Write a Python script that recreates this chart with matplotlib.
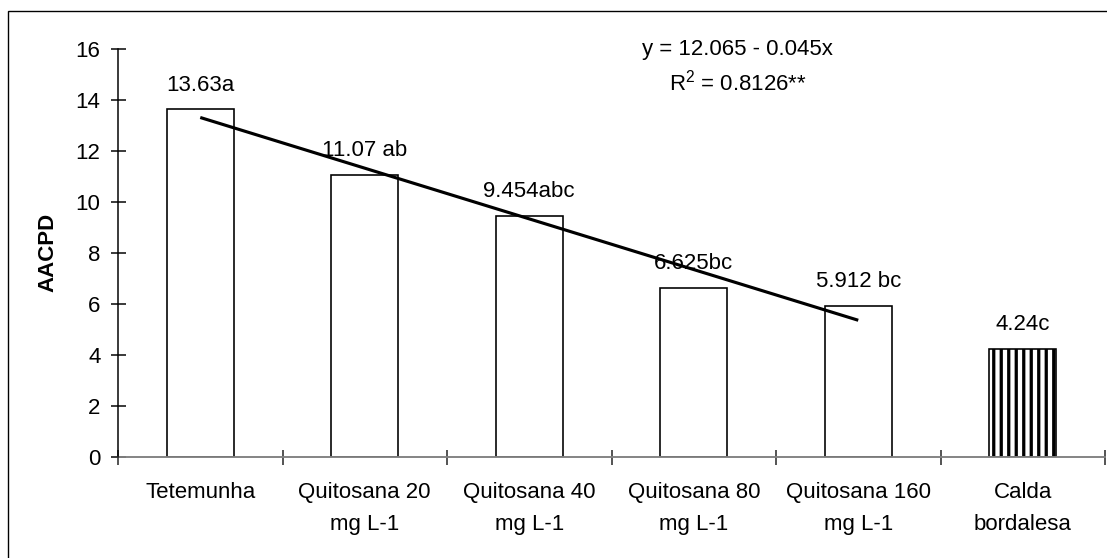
import matplotlib
matplotlib.use("Agg")
import matplotlib.pyplot as plt
import numpy as np
from matplotlib.patches import Rectangle

categories = ["Tetemunha", "Quitosana 20\nmg L-1", "Quitosana 40\nmg L-1",
              "Quitosana 80\nmg L-1", "Quitosana 160\nmg L-1", "Calda\nbordalesa"]
values = [13.63, 11.07, 9.454, 6.625, 5.912, 4.24]
bar_labels = ["13.63a", "11.07 ab", "9.454abc", "6.625bc", "5.912 bc", "4.24c"]
hatches = ["", "", "", "", "", "||"]
yticks = [0, 2, 4, 6, 8, 10, 12, 14, 16]
equation = "y = 12.065 - 0.045x"
r2_text = r"R$^{\mathregular{2}}$ = 0.8126**"
ylabel = "AACPD"

plt.rcParams['font.family'] = ['Liberation Sans', 'DejaVu Sans']
plt.rcParams['hatch.linewidth'] = 2.6

DPI = 90
W, H = 1107, 558
fig = plt.figure(figsize=(W / DPI, H / DPI), dpi=DPI)
fig.patch.set_facecolor('white')

L, R, B, T = 118, 1105, 457, 49
ax = fig.add_axes([L / W, 1 - B / H, (R - L) / W, (B - T) / H])
ax.patch.set_alpha(0)

FS = 17.8
x = np.arange(len(categories))
for i, (v, h) in enumerate(zip(values, hatches)):
    ax.bar(x[i], v, width=0.41, facecolor='white', edgecolor='black',
           linewidth=1.3, hatch=h if h else None, zorder=2)

for i, (v, lab) in enumerate(zip(values, bar_labels)):
    ax.annotate(lab, (x[i], v), xytext=(0, 15), textcoords='offset points',
                ha='center', va='baseline', fontsize=FS, zorder=3)

# linear trend over the five chitosan-related categories (Excel-style, by category index)
xt = x[:5]
coef = np.polyfit(xt, values[:5], 1)
ax.plot([xt[0], xt[-1]], np.polyval(coef, [xt[0], xt[-1]]), color='black',
        lw=2.5, zorder=4, solid_capstyle='butt')

ax.set_xlim(-0.5, len(categories) - 0.5)
ax.set_ylim(0, 16)
ax.set_yticks(yticks)
ax.set_yticklabels([str(t) for t in yticks], fontsize=FS)

ax.set_xticks(np.arange(len(categories) + 1) - 0.5)
ax.set_xticklabels([])
ax.set_xticks(x, minor=True)
ax.set_xticklabels(categories, minor=True, fontsize=FS, linespacing=1.7)
ax.tick_params(axis='x', which='minor', length=0, pad=20)
ax.tick_params(axis='x', which='major', direction='inout', length=12, width=1.2, color='#202020')
ax.tick_params(axis='y', direction='inout', length=12, width=1.2, pad=8, color='black')

for s in ['top', 'right']:
    ax.spines[s].set_visible(False)
ax.spines['left'].set_color('black')
ax.spines['left'].set_linewidth(1.2)
ax.spines['bottom'].set_color('#808080')
ax.spines['bottom'].set_linewidth(1.5)
ax.spines['left'].set_zorder(5)

ax.text(0.628, (B - 55) / (B - T), equation, transform=ax.transAxes,
        ha='center', va='baseline', fontsize=FS)
ax.text(0.628, (B - 90) / (B - T), r2_text, transform=ax.transAxes,
        ha='center', va='baseline', fontsize=FS)

fig.text(48 / W, 1 - 252 / H, ylabel, rotation=90, ha='center', va='center',
         fontsize=FS, fontweight='bold')

fig.patches.append(Rectangle((8 / W, -0.2), 1.5, 1.2 - 11 / H,
                             transform=fig.transFigure, fill=False,
                             edgecolor='black', linewidth=1.1))

fig.savefig('out.png', dpi=DPI, facecolor='white')
